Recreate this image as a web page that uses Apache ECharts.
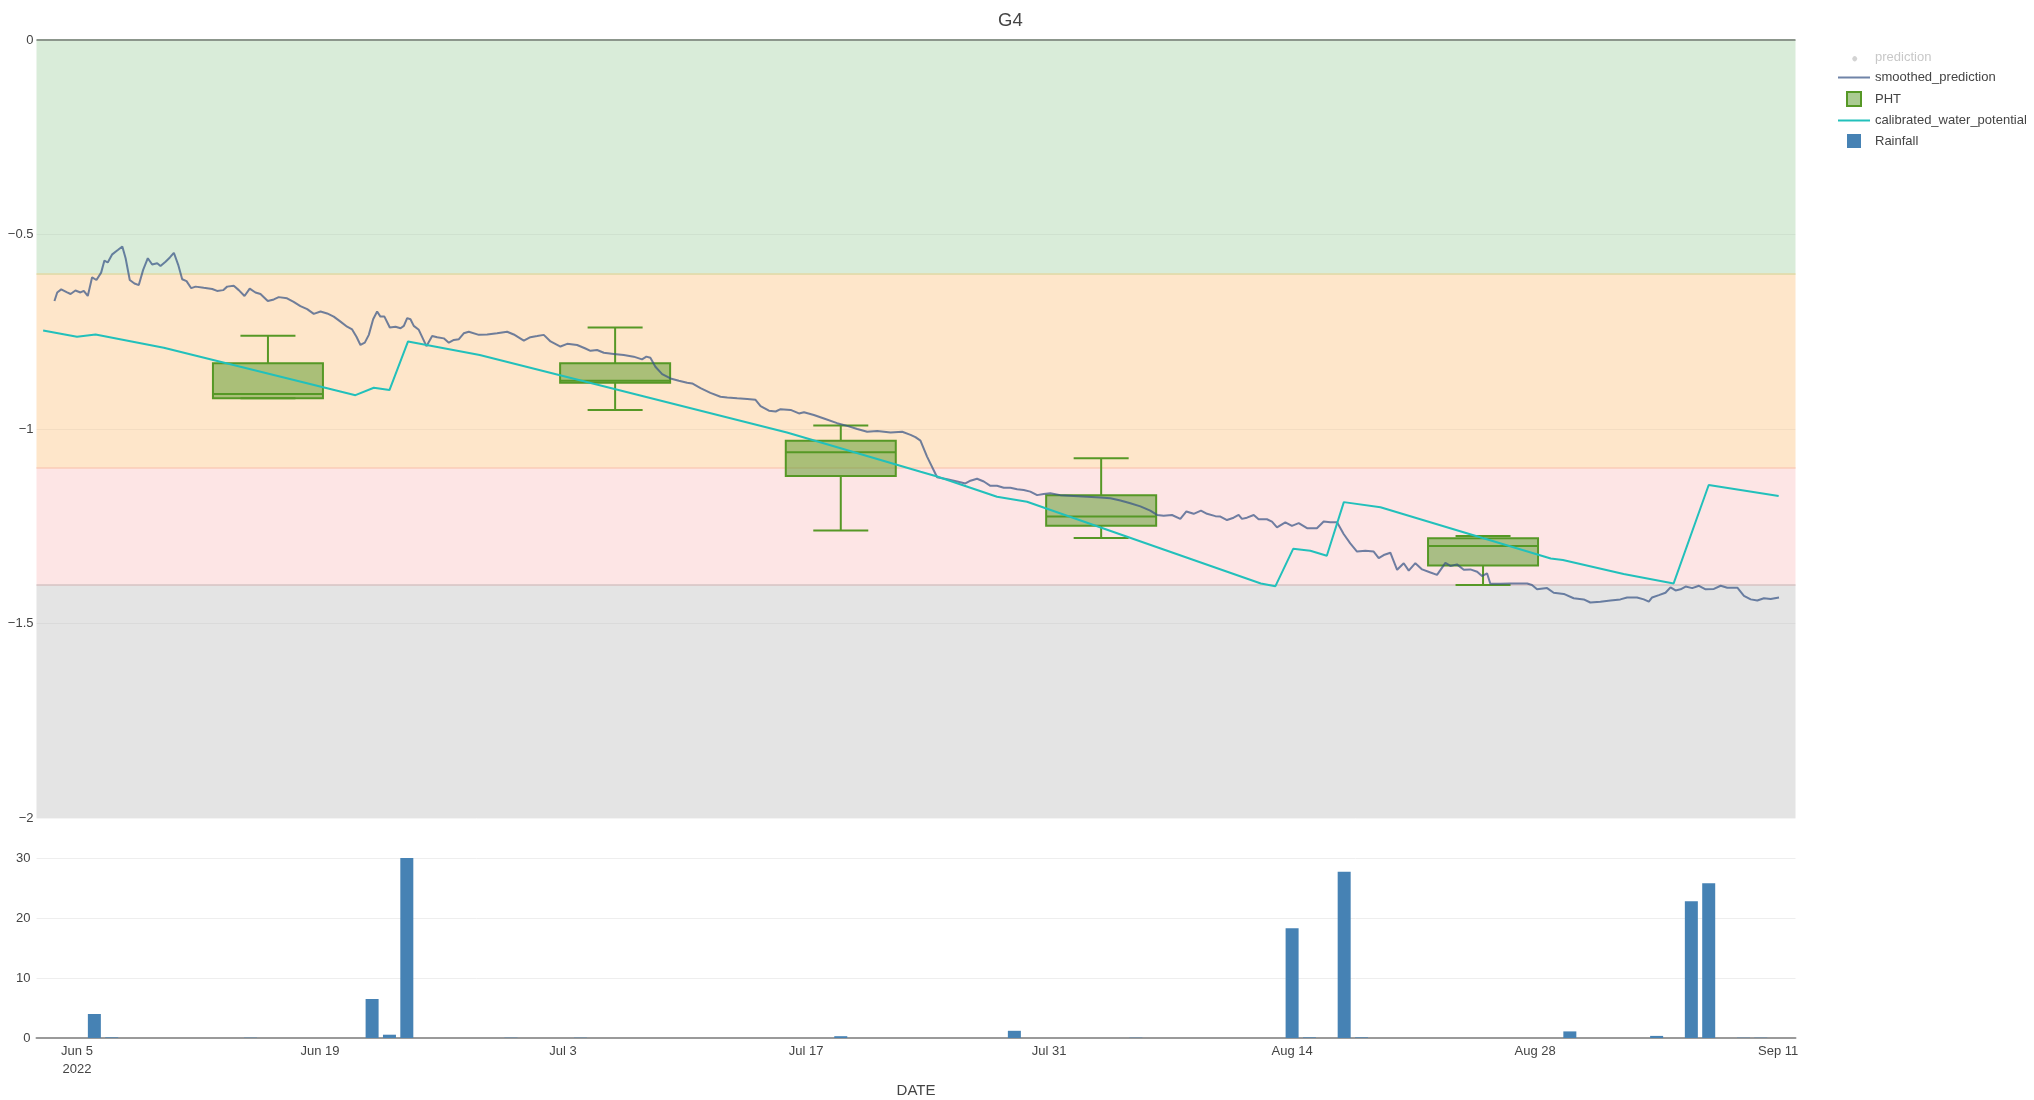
<!DOCTYPE html>
<html>
<head>
<meta charset="utf-8">
<title>G4</title>
<script src="https://cdn.jsdelivr.net/npm/echarts@6/dist/echarts.min.js"></script>
<style>
  html, body { margin: 0; padding: 0; background: #fff; }
  #chart { width: 2034px; height: 1100px; }
</style>
</head>
<body>
<div id="chart"></div>
<script>
// time values of the two lines are in days counted from 2022-06-05 00:00 UTC
const DAY0 = Date.UTC(2022, 5, 5);
const DAY_MS = 86400000;

const smoothedDay = [
  -1.30, -1.14, -0.91, -0.57, -0.37, -0.09, 0.20, 0.39, 0.62, 0.87, 1.12, 1.39, 1.58, 1.77, 2.03, 2.35, 2.61, 2.80,
  3.04, 3.31, 3.56, 3.81, 4.08, 4.33, 4.62, 4.81, 5.10, 5.35, 5.58, 5.83, 6.06, 6.31, 6.58, 6.83, 7.30, 7.79, 8.07,
  8.42, 8.65, 9.03, 9.32, 9.65, 9.95, 10.28, 10.57, 10.99, 11.34, 11.62, 12.10, 12.48, 12.87, 13.26, 13.64, 14.03,
  14.41, 14.79, 15.18, 15.56, 15.85, 16.10, 16.33, 16.58, 16.81, 17.06, 17.29, 17.48, 17.71, 18.02, 18.35, 18.64,
  18.83, 19.02, 19.21, 19.40, 19.69, 19.88, 20.13, 20.46, 20.75, 21.13, 21.42, 21.71, 22.00, 22.28, 22.57,
  23.15, 23.63, 24.20, 24.78, 25.16, 25.74, 26.12, 26.51, 26.89, 27.28, 27.85, 28.24, 28.81, 29.29, 29.58, 29.96,
  30.35, 30.92, 31.50, 32.07, 32.55, 32.80, 33.03, 33.32, 33.71, 34.19, 34.67, 35.15, 35.44, 35.92, 36.49, 37.07,
  37.46, 38.03, 38.61, 39.09, 39.38, 39.86, 40.25, 40.53, 41.11, 41.59, 41.88, 42.45, 43.03, 43.79, 44.37, 44.95,
  45.52, 46.10, 46.87, 47.54, 48.02, 48.30, 48.59, 48.97, 49.55, 50.13, 50.70, 51.18, 51.47, 51.85, 52.24, 52.62,
  53.00, 53.39, 53.77, 54.16, 54.54, 54.92, 55.31, 55.69, 56.07, 56.65, 57.42, 58.19, 58.95, 59.53, 60.11, 60.68,
  61.26, 61.83, 62.22, 62.60, 63.08, 63.56, 63.91, 64.33, 64.75, 65.10, 65.58, 65.87, 66.25, 66.63, 66.92, 67.11,
  67.40, 67.79, 68.07, 68.55, 68.84, 69.13, 69.61, 69.99, 70.38, 70.86, 71.43, 71.82, 72.20, 72.59, 72.97, 73.35,
  73.74, 74.22, 74.70, 74.99, 75.28, 75.66, 76.05, 76.43, 76.72, 77.10, 77.49, 77.97, 78.35, 78.83, 79.12, 79.50,
  79.89, 80.27, 80.66, 80.94, 81.23, 81.42, 82.00, 82.58, 83.54, 83.82, 84.11, 84.69, 85.07, 85.65, 86.22, 86.80,
  87.18, 87.76, 88.34, 88.91, 89.30, 89.87, 90.26, 90.55, 90.74, 91.13, 91.51, 91.80, 92.09, 92.38, 92.67, 93.05,
  93.44, 93.82, 94.30, 94.69, 95.07, 95.65, 96.03, 96.42, 96.80, 97.18, 97.57, 98.05
];
const smoothedValue = [
  -0.671, -0.649, -0.641, -0.649, -0.653, -0.644, -0.649, -0.645, -0.658, -0.610, -0.617, -0.598, -0.567, -0.572, -0.551, -0.540, -0.531, -0.561,
  -0.617, -0.626, -0.630, -0.591, -0.561, -0.577, -0.574, -0.581, -0.570, -0.559, -0.547, -0.578, -0.615, -0.620, -0.638, -0.634, -0.637, -0.640, -0.645,
  -0.643, -0.634, -0.632, -0.643, -0.658, -0.639, -0.649, -0.653, -0.671, -0.667, -0.661, -0.664, -0.673, -0.684, -0.692, -0.704, -0.698,
  -0.703, -0.711, -0.724, -0.737, -0.744, -0.763, -0.784, -0.778, -0.758, -0.718, -0.698, -0.711, -0.711, -0.739, -0.737, -0.741,
  -0.735, -0.715, -0.718, -0.735, -0.745, -0.763, -0.787, -0.761, -0.764, -0.767, -0.778, -0.771, -0.769, -0.754, -0.750,
  -0.758, -0.757, -0.754, -0.750, -0.757, -0.773, -0.764, -0.761, -0.758, -0.775, -0.788, -0.781, -0.784, -0.793, -0.799, -0.797,
  -0.804, -0.807, -0.810, -0.814, -0.821, -0.814, -0.817, -0.840, -0.859, -0.870, -0.876, -0.881, -0.883, -0.895, -0.907, -0.917,
  -0.919, -0.921, -0.923, -0.925, -0.941, -0.953, -0.955, -0.949, -0.951, -0.960, -0.957, -0.964, -0.973, -0.985, -0.992, -1.000,
  -1.007, -1.005, -1.009, -1.007, -1.015, -1.021, -1.030, -1.071, -1.124, -1.129, -1.135, -1.140, -1.133, -1.128, -1.135, -1.146,
  -1.146, -1.151, -1.151, -1.155, -1.157, -1.161, -1.170, -1.167, -1.165, -1.170, -1.172, -1.174, -1.176, -1.178, -1.184, -1.191,
  -1.199, -1.210, -1.221, -1.223, -1.221, -1.231, -1.212, -1.218, -1.210, -1.218, -1.224, -1.225, -1.234, -1.228, -1.221, -1.231,
  -1.228, -1.221, -1.232, -1.232, -1.238, -1.253, -1.240, -1.249, -1.242, -1.255, -1.255, -1.238, -1.240, -1.240, -1.270, -1.294,
  -1.315, -1.313, -1.315, -1.332, -1.324, -1.318, -1.362, -1.345, -1.364, -1.345, -1.361, -1.369, -1.375, -1.344, -1.352, -1.348,
  -1.362, -1.361, -1.367, -1.378, -1.371, -1.398, -1.398, -1.397, -1.397, -1.401, -1.412, -1.409, -1.421, -1.424, -1.435, -1.438,
  -1.446, -1.444, -1.441, -1.438, -1.433, -1.433, -1.438, -1.444, -1.433, -1.427, -1.421, -1.407, -1.415, -1.412, -1.405, -1.409,
  -1.403, -1.412, -1.411, -1.403, -1.408, -1.408, -1.429, -1.438, -1.441, -1.435, -1.437, -1.433
];

const calibratedDay = [
  -1.95, 0.00, 1.07, 5.00, 16.04, 17.10, 18.00, 19.07, 23.20, 40.90, 48.60, 49.55, 53.00, 54.73,
  68.20, 69.04, 70.06, 71.05, 72.00, 72.98, 75.09, 84.90, 85.60, 89.10, 91.98, 94.00, 98.03
];
const calibratedValue = [
  -0.747, -0.763, -0.757, -0.791, -0.913, -0.894, -0.900, -0.775, -0.810, -1.009, -1.110, -1.122, -1.174, -1.187,
  -1.397, -1.404, -1.308, -1.313, -1.326, -1.188, -1.201, -1.333, -1.337, -1.373, -1.397, -1.144, -1.172
];

const phtDate = ['2022-06-16', '2022-07-06', '2022-07-19', '2022-08-03', '2022-08-25'];
const phtMin = [-0.921, -0.951, -1.261, -1.280, -1.401];
const phtQ1 = [-0.921, -0.881, -1.121, -1.249, -1.351];
const phtMedian = [-0.910, -0.876, -1.060, -1.225, -1.301];
const phtQ3 = [-0.831, -0.831, -1.030, -1.170, -1.281];
const phtMax = [-0.760, -0.739, -0.991, -1.075, -1.275];

const rainDate = [
  '2022-06-06', '2022-06-07', '2022-06-15', '2022-06-22', '2022-06-23', '2022-06-24', '2022-06-30',
  '2022-07-04', '2022-07-19', '2022-07-29', '2022-08-05', '2022-08-14', '2022-08-15', '2022-08-17',
  '2022-08-18', '2022-08-30', '2022-09-04', '2022-09-06', '2022-09-07', '2022-09-09', '2022-09-10'
];
const rainValue = [4.0, 0.1, 0.05, 6.5, 0.55, 30.0, 0.05, 0.05, 0.3, 1.2, 0.05, 18.3, 0.1, 27.7, 0.1, 1.1, 0.35, 22.8, 25.8, 0.05, 0.05];

const zoneEdges = [0, -0.6, -1.1, -1.4, -2];
const zoneColors = ['#d9ecd9', '#fee6ca', '#fde5e5', '#e4e4e4'];
const zoneLineColors = ['rgba(140,150,140,1)', 'rgba(215,215,160,0.9)', 'rgba(250,200,180,0.9)', 'rgba(215,190,190,0.9)'];

const tickDates = ['2022-06-05', '2022-06-19', '2022-07-03', '2022-07-17', '2022-07-31', '2022-08-14', '2022-08-28', '2022-09-11'];
const xStart = '2022-06-02T16:00:00Z';
const xEnd = '2022-09-12T00:00:00Z';

const MONTHS = ['Jan', 'Feb', 'Mar', 'Apr', 'May', 'Jun', 'Jul', 'Aug', 'Sep', 'Oct', 'Nov', 'Dec'];
const FONT = "'Liberation Sans', Arial, sans-serif";
const FS = 13;
const PHT_LINE = 'rgb(86,152,38)';
const PHT_FILL = 'rgba(86,152,38,0.5)';
const SMOOTH_COLOR = 'rgba(55,85,135,0.72)';
const CALIB_COLOR = '#22c0bb';
const BOX_W = 110;
const LINE_ICON = 'path://M0,0H32V2H0Z';
const SQUARE_ICON = 'path://M0,0H10V10H0Z';

const toTime = s => new Date(s.length === 10 ? s + 'T00:00:00Z' : s).getTime();
const dayToTime = d => DAY0 + d * DAY_MS;

const tickValues = tickDates.map(toTime);
const xMin = toTime(xStart), xMax = toTime(xEnd);

const smoothedData = smoothedDay.map((d, i) => [dayToTime(d), smoothedValue[i]]);
const calibratedData = calibratedDay.map((d, i) => [dayToTime(d), calibratedValue[i]]);
const phtData = phtDate.map((d, i) => [toTime(d), phtMin[i], phtQ1[i], phtMedian[i], phtQ3[i], phtMax[i]]);
const rainData = rainDate.map((d, i) => [toTime(d), rainValue[i]]);

const zoneAreas = zoneColors.map((c, i) => [
  { yAxis: zoneEdges[i], itemStyle: { color: c } },
  { yAxis: zoneEdges[i + 1] }
]);
const zoneLines = zoneLineColors.map((c, i) => ({
  yAxis: zoneEdges[i], lineStyle: { color: c, width: i === 0 ? 2 : 1.5, type: 'solid' }
}));

function renderBox(params, api) {
  const t = api.value(0);
  const lo = api.coord([t, api.value(1)]);
  const q1 = api.coord([t, api.value(2)]);
  const med = api.coord([t, api.value(3)]);
  const q3 = api.coord([t, api.value(4)]);
  const hi = api.coord([t, api.value(5)]);
  const x = med[0], half = BOX_W / 2, cap = BOX_W / 4;
  const st = { stroke: PHT_LINE, lineWidth: 2, fill: null };
  return {
    type: 'group',
    children: [
      { type: 'line', shape: { x1: x, y1: hi[1], x2: x, y2: q3[1] }, style: st },
      { type: 'line', shape: { x1: x, y1: q1[1], x2: x, y2: lo[1] }, style: st },
      { type: 'line', shape: { x1: x - cap, y1: hi[1], x2: x + cap, y2: hi[1] }, style: st },
      { type: 'line', shape: { x1: x - cap, y1: lo[1], x2: x + cap, y2: lo[1] }, style: st },
      { type: 'rect', shape: { x: x - half, y: q3[1], width: BOX_W, height: q1[1] - q3[1] },
        style: { fill: PHT_FILL, stroke: PHT_LINE, lineWidth: 2 } },
      { type: 'line', shape: { x1: x - half, y1: med[1], x2: x + half, y2: med[1] }, style: st }
    ]
  };
}

const chart = echarts.init(document.getElementById('chart'));

const option = {
  animation: false,
  textStyle: { fontFamily: FONT },
  title: {
    text: 'G4', left: 993, top: 6,
    textStyle: { fontSize: 18.5, fontWeight: 'normal', color: '#444', fontFamily: FONT }
  },
  legend: {
    orient: 'vertical', left: 1833, top: 45,
    itemWidth: 32, itemHeight: 14, itemGap: 7,
    textStyle: { fontSize: FS, color: '#444', fontFamily: FONT },
    inactiveColor: '#c8c8c8',
    selected: { prediction: false },
    data: [
      { name: 'prediction', icon: 'path://M0,0M14,14M9.5,7A2.5,2.5 0 1 1 9.49,6.99Z' },
      { name: 'smoothed_prediction', icon: LINE_ICON, itemStyle: { color: SMOOTH_COLOR } },
      { name: 'PHT', icon: SQUARE_ICON, itemStyle: { color: PHT_FILL, borderColor: PHT_LINE, borderWidth: 2 } },
      { name: 'calibrated_water_potential', icon: LINE_ICON, itemStyle: { color: CALIB_COLOR } },
      { name: 'Rainfall', icon: SQUARE_ICON, itemStyle: { color: '#4682b4' } }
    ]
  },
  grid: [
    { left: 36.5, width: 1759, top: 40, height: 778 },
    { left: 36.5, width: 1759, top: 858, height: 180 }
  ],
  xAxis: [
    { type: 'value', gridIndex: 0, min: xMin, max: xMax, show: false },
    {
      type: 'value', gridIndex: 1, min: xMin, max: xMax,
      axisLine: { show: true, lineStyle: { color: '#9a9a9a', width: 2 } },
      axisTick: { show: false },
      splitLine: { show: false },
      axisLabel: {
        customValues: tickValues,
        color: '#444', fontSize: FS, margin: 4, lineHeight: 18,
        formatter: v => {
          const d = new Date(v);
          const s = MONTHS[d.getUTCMonth()] + ' ' + d.getUTCDate();
          return v === tickValues[0] ? s + '\n' + d.getUTCFullYear() : s;
        }
      },
      name: 'DATE', nameLocation: 'middle', nameGap: 45,
      nameTextStyle: { color: '#444', fontSize: 15 }
    }
  ],
  yAxis: [
    {
      type: 'value', gridIndex: 0, min: -2, max: 0, interval: 0.5, z: 1,
      axisLine: { show: false }, axisTick: { show: false },
      splitLine: { lineStyle: { color: 'rgba(0,0,0,0.045)', width: 1 } },
      axisLabel: { color: '#444', fontSize: FS, margin: 3, formatter: v => String(v).replace('-', '\u2212') }
    },
    {
      type: 'value', gridIndex: 1, min: 0, max: 30, interval: 10,
      axisLine: { show: false }, axisTick: { show: false },
      splitLine: { lineStyle: { color: '#eeeeee', width: 1 } },
      axisLabel: { color: '#444', fontSize: FS, margin: 6 }
    }
  ],
  series: [
    {
      name: 'prediction', type: 'scatter', xAxisIndex: 0, yAxisIndex: 0,
      data: [], itemStyle: { color: '#1f77b4' }
    },
    {
      name: 'smoothed_prediction', type: 'line', xAxisIndex: 0, yAxisIndex: 0,
      data: smoothedData, symbol: 'none', showSymbol: false,
      itemStyle: { color: SMOOTH_COLOR },
      lineStyle: { color: SMOOTH_COLOR, width: 2 },
      markArea: { silent: true, z: 0, data: zoneAreas },
      markLine: { silent: true, z: 1, symbol: 'none', label: { show: false }, data: zoneLines }
    },
    {
      name: 'PHT', type: 'custom', xAxisIndex: 0, yAxisIndex: 0,
      data: phtData, encode: { x: 0, y: [1, 2, 3, 4, 5] },
      itemStyle: { color: PHT_FILL },
      renderItem: renderBox
    },
    {
      name: 'calibrated_water_potential', type: 'line', xAxisIndex: 0, yAxisIndex: 0,
      data: calibratedData, symbol: 'none', showSymbol: false,
      itemStyle: { color: CALIB_COLOR },
      lineStyle: { color: CALIB_COLOR, width: 2 }
    },
    {
      name: 'Rainfall', type: 'bar', xAxisIndex: 1, yAxisIndex: 1,
      data: rainData, barWidth: 13,
      itemStyle: { color: '#4682b4' }
    }
  ]
};

chart.setOption(option);
</script>
</body>
</html>
